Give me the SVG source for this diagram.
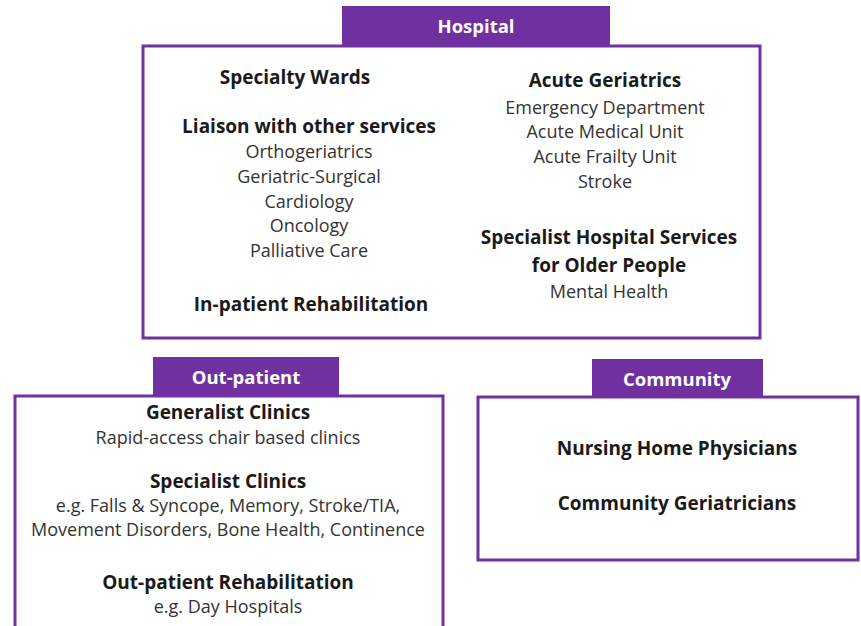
<svg xmlns="http://www.w3.org/2000/svg" width="861" height="626" viewBox="0 0 861 626">
<style>
.box{fill:#fff;stroke:#7030A0;stroke-width:3}
.tab{fill:#7030A0}
.tt{font-family:"Open Sans","Liberation Sans",sans-serif;font-weight:bold;font-size:18.5px;fill:#fff;text-anchor:middle}
.h{font-family:"Open Sans","Liberation Sans",sans-serif;font-weight:bold;font-size:19px;fill:#1a1a1a;text-anchor:middle}
.t{font-family:"Open Sans","Liberation Sans",sans-serif;font-size:18px;fill:#333;text-anchor:middle}
</style>
<rect width="861" height="626" fill="#fff"/>
<g id="hospital">
<rect class="box" x="143" y="46" width="617" height="292"/>
<rect class="tab" x="342" y="6" width="268" height="40"/>
<text class="tt" x="476" y="33">Hospital</text>
<text class="h" x="295" y="84">Specialty Wards</text>
<text class="h" x="309" y="133">Liaison with other services</text>
<text class="t" x="309" y="158">Orthogeriatrics</text>
<text class="t" x="309" y="183">Geriatric-Surgical</text>
<text class="t" x="309" y="208">Cardiology</text>
<text class="t" x="309" y="232">Oncology</text>
<text class="t" x="309" y="257">Palliative Care</text>
<text class="h" x="311" y="311">In-patient Rehabilitation</text>
<text class="h" x="605" y="87">Acute Geriatrics</text>
<text class="t" x="605" y="114">Emergency Department</text>
<text class="t" x="605" y="138">Acute Medical Unit</text>
<text class="t" x="605" y="163">Acute Frailty Unit</text>
<text class="t" x="605" y="188">Stroke</text>
<text class="h" x="609" y="244">Specialist Hospital Services</text>
<text class="h" x="609" y="272">for Older People</text>
<text class="t" x="609" y="298">Mental Health</text>
</g>
<g id="outpatient">
<rect class="box" x="15" y="396" width="428" height="240"/>
<rect class="tab" x="153" y="357" width="186" height="39"/>
<text class="tt" x="246" y="384">Out-patient</text>
<text class="h" x="228" y="419">Generalist Clinics</text>
<text class="t" x="228" y="444">Rapid-access chair based clinics</text>
<text class="h" x="228" y="488">Specialist Clinics</text>
<text class="t" x="228" y="512">e.g. Falls &amp; Syncope, Memory, Stroke/TIA,</text>
<text class="t" x="228" y="536">Movement Disorders, Bone Health, Continence</text>
<text class="h" x="228" y="589">Out-patient Rehabilitation</text>
<text class="t" x="228" y="613">e.g. Day Hospitals</text>
</g>
<g id="community">
<rect class="box" x="478" y="397" width="380" height="163"/>
<rect class="tab" x="592" y="359" width="171" height="38"/>
<text class="tt" x="677" y="386">Community</text>
<text class="h" x="677" y="455">Nursing Home Physicians</text>
<text class="h" x="677" y="510">Community Geriatricians</text>
</g>
<g id="connectors"></g>
</svg>
